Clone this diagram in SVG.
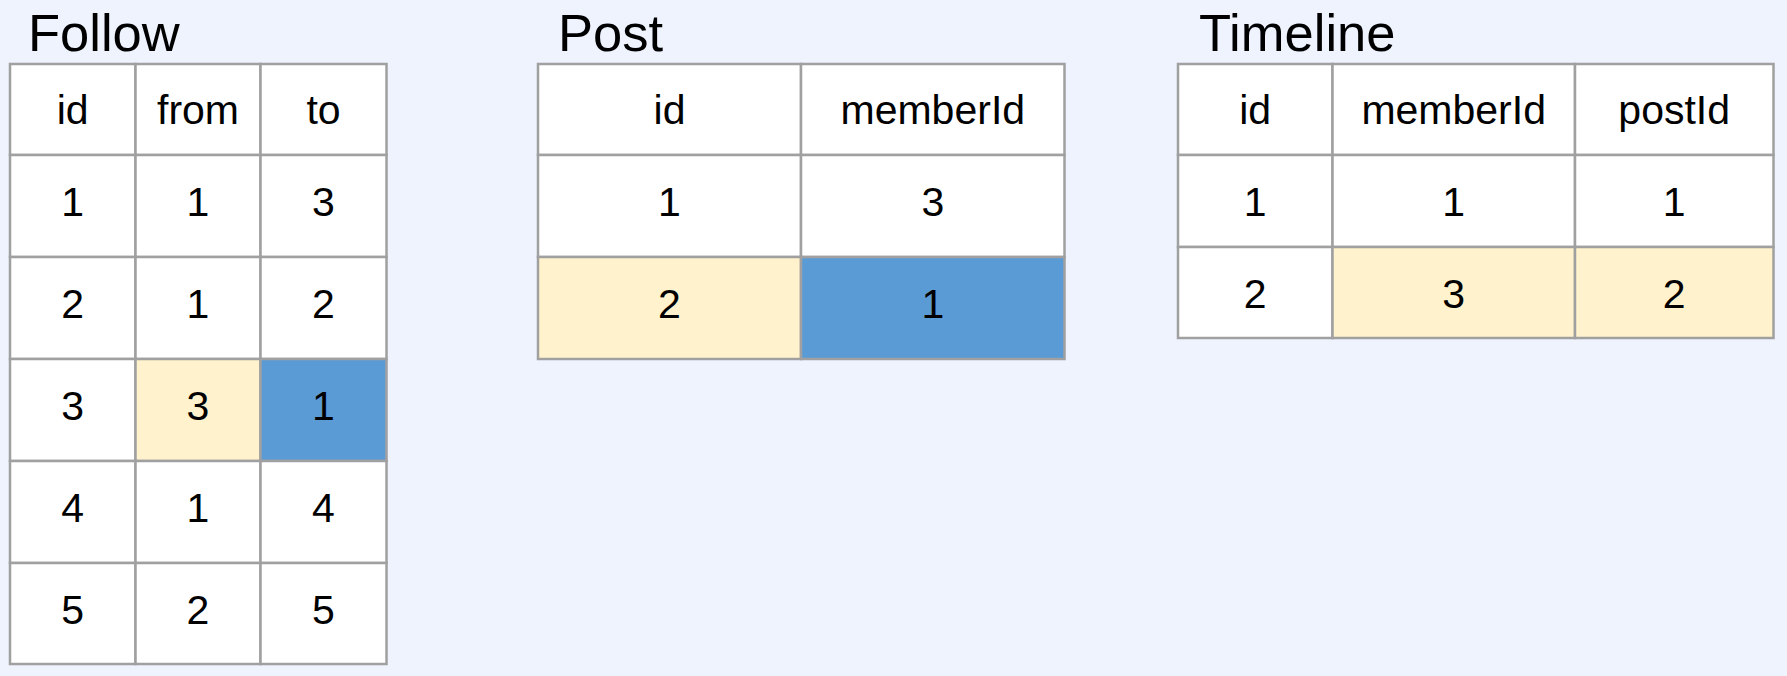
<svg xmlns="http://www.w3.org/2000/svg" width="1787" height="676" viewBox="0 0 1787 676">
<style>
.t{font-family:"Liberation Sans",Arial,sans-serif;font-size:52.5px;fill:#000}
.c{font-family:"Liberation Sans",Arial,sans-serif;font-size:41px;fill:#000;text-anchor:middle}
.w{fill:#fff;stroke:#a0a0a0;stroke-width:2.5}
.y{fill:#fff2cc;stroke:#a0a0a0;stroke-width:2.5}
.b{fill:#5b9bd5;stroke:#a0a0a0;stroke-width:2.5}
</style>
<rect width="1787" height="676" fill="#eef3fe"/>
<g id="follow">
<text class="t" x="28" y="51">Follow</text>
<rect class="w" x="10" y="64" width="125.5" height="91"/><rect class="w" x="135.5" y="64" width="125" height="91"/><rect class="w" x="260.5" y="64" width="126" height="91"/>
<rect class="w" x="10" y="155" width="125.5" height="102"/><rect class="w" x="135.5" y="155" width="125" height="102"/><rect class="w" x="260.5" y="155" width="126" height="102"/>
<rect class="w" x="10" y="257" width="125.5" height="102"/><rect class="w" x="135.5" y="257" width="125" height="102"/><rect class="w" x="260.5" y="257" width="126" height="102"/>
<rect class="w" x="10" y="359" width="125.5" height="102"/><rect class="y" x="135.5" y="359" width="125" height="102"/><rect class="b" x="260.5" y="359" width="126" height="102"/>
<rect class="w" x="10" y="461" width="125.5" height="102"/><rect class="w" x="135.5" y="461" width="125" height="102"/><rect class="w" x="260.5" y="461" width="126" height="102"/>
<rect class="w" x="10" y="563" width="125.5" height="101"/><rect class="w" x="135.5" y="563" width="125" height="101"/><rect class="w" x="260.5" y="563" width="126" height="101"/>
<text class="c" x="72.7" y="124">id</text><text class="c" x="198" y="124">from</text><text class="c" x="323.5" y="124">to</text>
<text class="c" x="72.7" y="216">1</text><text class="c" x="198" y="216">1</text><text class="c" x="323.5" y="216">3</text>
<text class="c" x="72.7" y="318">2</text><text class="c" x="198" y="318">1</text><text class="c" x="323.5" y="318">2</text>
<text class="c" x="72.7" y="420">3</text><text class="c" x="198" y="420">3</text><text class="c" x="323.5" y="420">1</text>
<text class="c" x="72.7" y="522">4</text><text class="c" x="198" y="522">1</text><text class="c" x="323.5" y="522">4</text>
<text class="c" x="72.7" y="624">5</text><text class="c" x="198" y="624">2</text><text class="c" x="323.5" y="624">5</text>
</g>
<g id="post">
<text class="t" x="558" y="51">Post</text>
<rect class="w" x="538" y="64" width="263" height="91"/><rect class="w" x="801" y="64" width="263.5" height="91"/>
<rect class="w" x="538" y="155" width="263" height="102"/><rect class="w" x="801" y="155" width="263.5" height="102"/>
<rect class="y" x="538" y="257" width="263" height="102"/><rect class="b" x="801" y="257" width="263.5" height="102"/>
<text class="c" x="669.5" y="124">id</text><text class="c" x="932.8" y="124">memberId</text>
<text class="c" x="669.5" y="216">1</text><text class="c" x="932.8" y="216">3</text>
<text class="c" x="669.5" y="318">2</text><text class="c" x="932.8" y="318">1</text>
</g>
<g id="timeline">
<text class="t" x="1199" y="51">Timeline</text>
<rect class="w" x="1178" y="64" width="154.5" height="91"/><rect class="w" x="1332.5" y="64" width="242.5" height="91"/><rect class="w" x="1575" y="64" width="198.5" height="91"/>
<rect class="w" x="1178" y="155" width="154.5" height="92"/><rect class="w" x="1332.5" y="155" width="242.5" height="92"/><rect class="w" x="1575" y="155" width="198.5" height="92"/>
<rect class="w" x="1178" y="247" width="154.5" height="91"/><rect class="y" x="1332.5" y="247" width="242.5" height="91"/><rect class="y" x="1575" y="247" width="198.5" height="91"/>
<text class="c" x="1255.2" y="124">id</text><text class="c" x="1453.7" y="124">memberId</text><text class="c" x="1674.2" y="124">postId</text>
<text class="c" x="1255.2" y="216">1</text><text class="c" x="1453.7" y="216">1</text><text class="c" x="1674.2" y="216">1</text>
<text class="c" x="1255.2" y="308">2</text><text class="c" x="1453.7" y="308">3</text><text class="c" x="1674.2" y="308">2</text>
</g>
</svg>
